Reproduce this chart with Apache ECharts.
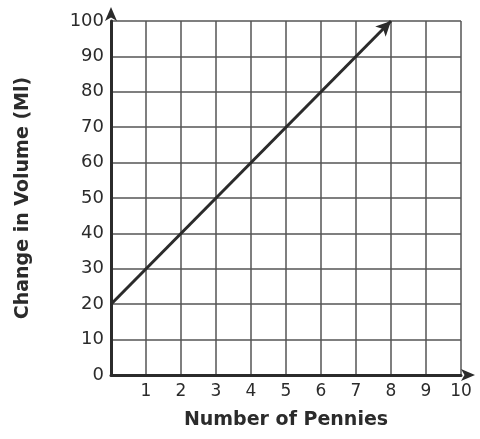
<!DOCTYPE html>
<html>
<head>
<meta charset="utf-8">
<script src="https://cdn.jsdelivr.net/npm/echarts@6/dist/echarts.min.js"></script>
<style>
  html, body { margin: 0; padding: 0; background: #fff; }
  #chart { width: 480px; height: 439px; }
</style>
</head>
<body>
<div id="chart"></div>
<script>
var xTicks = [0, 1, 2, 3, 4, 5, 6, 7, 8, 9, 10];
var yTicks = [0, 10, 20, 30, 40, 50, 60, 70, 80, 90, 100];
// line: starts at 20 ml, reaches 100 ml at 8 pennies
var pennies = [0, 8];
var volume = [20, 100];

var chart = echarts.init(document.getElementById('chart'));
var ink = '#2b2b2b';
var font = 'DejaVu Sans';

var option = {
    backgroundColor: '#fff',
    animation: false,
    grid: { left: 111, top: 21, right: 19, bottom: 64 },
    xAxis: {
        type: 'value',
        min: xTicks[0], max: xTicks[xTicks.length - 1], interval: 1,
        name: 'Number of Pennies',
        nameLocation: 'middle',
        nameGap: 36,
        nameTextStyle: { color: ink, fontSize: 19, fontWeight: 'bold', fontFamily: font },
        axisLine: { lineStyle: { color: ink, width: 3 }, symbol: ['none', 'arrow'], symbolSize: [9, 14], symbolOffset: [0, 14] },
        axisTick: { show: false },
        splitLine: { lineStyle: { color: '#555', width: 1.5 } },
        axisLabel: {
            color: ink, fontSize: 17, fontFamily: font, margin: 8,
            formatter: function (v) { return v === 0 ? '' : v; }
        }
    },
    yAxis: {
        type: 'value',
        min: yTicks[0], max: yTicks[yTicks.length - 1], interval: 10,
        name: 'Change in Volume (Ml)',
        nameLocation: 'middle',
        nameGap: 78,
        nameTextStyle: { color: ink, fontSize: 19, fontWeight: 'bold', fontFamily: font },
        axisLine: { lineStyle: { color: ink, width: 3 }, symbol: ['none', 'arrow'], symbolSize: [9, 14], symbolOffset: [0, 14] },
        axisTick: { show: false },
        splitLine: { lineStyle: { color: '#555', width: 1.5 } },
        axisLabel: { color: ink, fontSize: 18, fontFamily: font, margin: 7 }
    },
    series: [{
        type: 'line',
        clip: false,
        data: [],
        markLine: {
            silent: true,
            symbol: ['none', 'arrow'],
            symbolSize: [11, 15],
            label: { show: false },
            lineStyle: { color: ink, width: 3, type: 'solid' },
            data: [[
                { coord: [pennies[0], volume[0]] },
                { coord: [pennies[1], volume[1]] }
            ]]
        }
    }]
};

chart.setOption(option);
window.addEventListener('resize', function () {
    chart.resize();
});
</script>
</body>
</html>
